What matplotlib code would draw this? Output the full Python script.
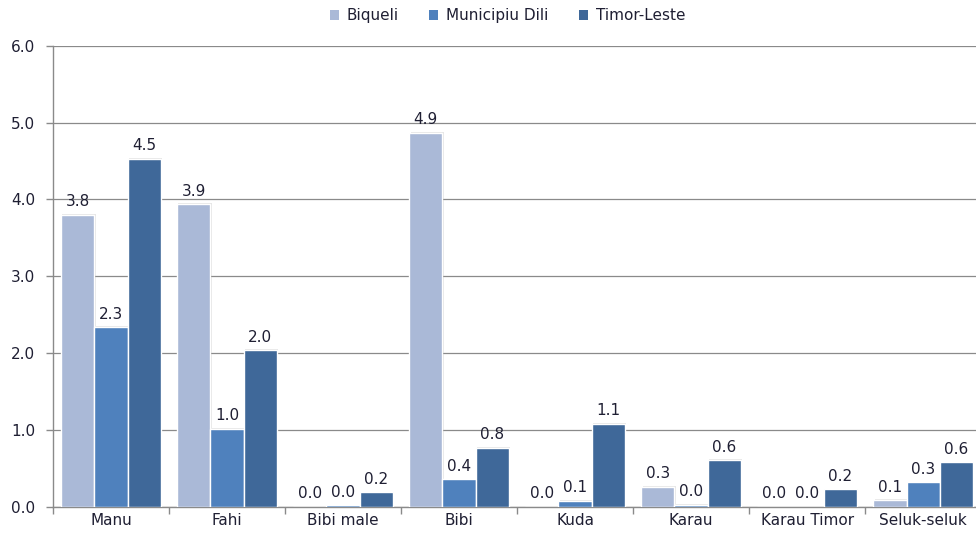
import matplotlib
matplotlib.use("Agg")
import matplotlib.pyplot as plt
import matplotlib.patheffects as pe
from matplotlib.patches import Patch
import numpy as np

categories = ["Manu", "Fahi", "Bibi male", "Bibi", "Kuda", "Karau", "Karau Timor", "Seluk-seluk"]
series_names = ["Biqueli", "Municipiu Dili", "Timor-Leste"]
biqueli = [3.80, 3.94, 0.00, 4.87, 0.00, 0.26, 0.00, 0.09]
municipiu_dili = [2.34, 1.02, 0.02, 0.36, 0.08, 0.03, 0.00, 0.32]
timor_leste = [4.53, 2.04, 0.19, 0.77, 1.08, 0.61, 0.23, 0.58]
y_ticks = [0.0, 1.0, 2.0, 3.0, 4.0, 5.0, 6.0]

colors = ["#AAB9D7", "#4F81BD", "#3F6899"]
text_color = "#1F1F33"
grid_color = "#8A8A8A"
fs = 11

fig = plt.figure(figsize=(9.76, 5.33), dpi=100)
ax = fig.add_axes([0.0543, 0.0488, 0.951, 0.8655])

x = np.arange(len(categories))
width = 0.287
shadow = [pe.SimplePatchShadow(offset=(1.0, 0.5), shadow_rgbFace="#909090", alpha=0.22), pe.Normal()]

for i, (name, vals) in enumerate(zip(series_names, [biqueli, municipiu_dili, timor_leste])):
    bars = ax.bar(x + (i - 1) * width, vals, width, color=colors[i], edgecolor="white",
                  linewidth=1.0, zorder=3)
    for b in bars:
        b.set_path_effects(shadow)
    ax.bar_label(bars, labels=[f"{v:.1f}" for v in vals], padding=4, fontsize=fs,
                 color=text_color, zorder=4)

ax.set_xlim(-0.5, len(categories) - 0.5)
ax.set_ylim(0, 6)
ax.set_yticks(y_ticks)
ax.set_yticklabels([f"{t:.1f}" for t in y_ticks], fontsize=fs, color=text_color)
ax.set_xticks(x)
ax.set_xticklabels(categories, fontsize=fs, color=text_color)
ax.tick_params(axis="x", which="major", length=0, pad=4)
ax.set_xticks(np.arange(-0.5, len(categories)), minor=True)
ax.tick_params(axis="x", which="minor", length=5, color=grid_color, width=1.0)
ax.tick_params(axis="y", length=5, color=grid_color, width=1.0, pad=8)

ax.yaxis.grid(True, color=grid_color, linewidth=0.9, zorder=0)
ax.set_axisbelow(True)
for side in ["top", "right"]:
    ax.spines[side].set_visible(False)
for side in ["left", "bottom"]:
    ax.spines[side].set_color(grid_color)
    ax.spines[side].set_linewidth(1.0)

handles = [Patch(facecolor=c, edgecolor="none") for c in colors]
fig.legend(handles, series_names, loc="upper center", bbox_to_anchor=(0.52, 1.01), ncol=3,
           frameon=False, fontsize=fs, handlelength=0.6, handleheight=0.6, columnspacing=2.0,
           handletextpad=0.5, labelcolor=text_color)

fig.savefig("out.png", dpi=100, facecolor="white")
